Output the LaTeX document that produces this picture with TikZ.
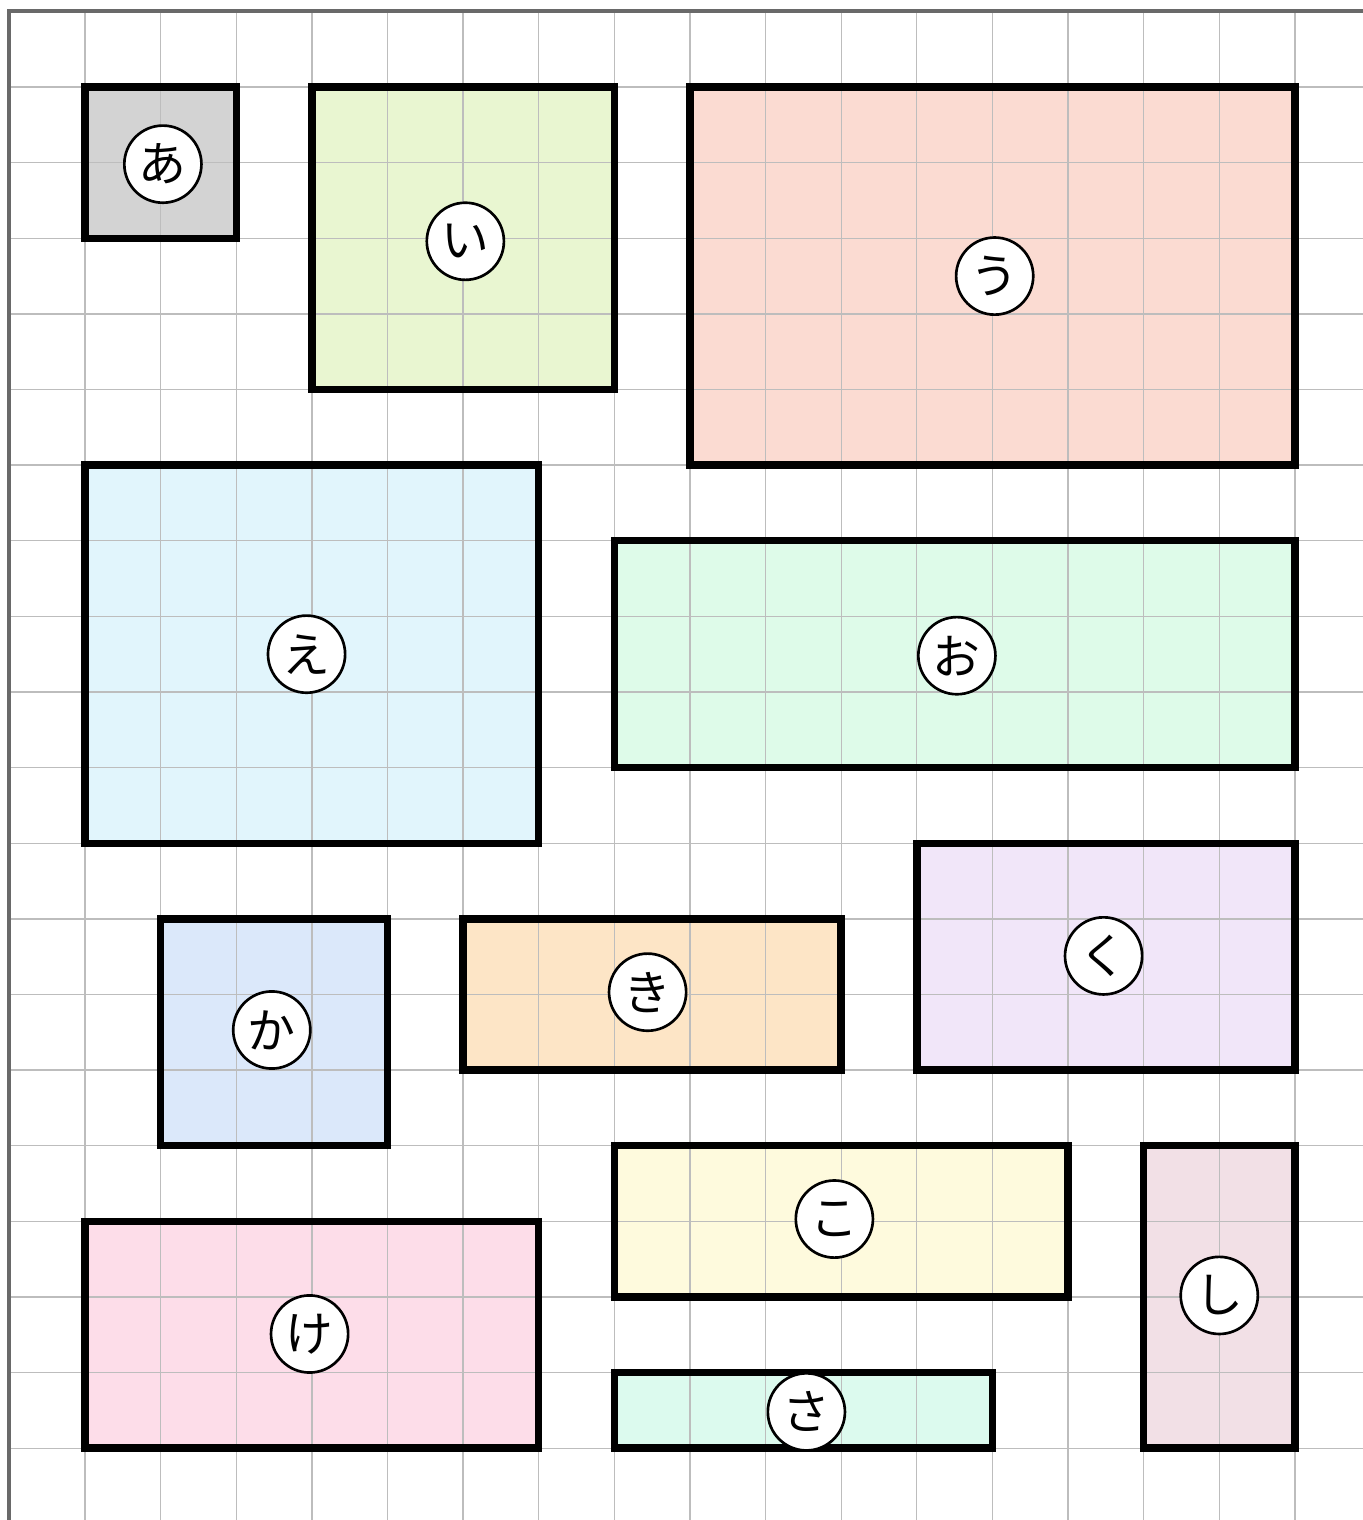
\documentclass[tikz,border=0pt]{standalone}
\usepackage{fontspec}
\newfontfamily\jpfont{Noto Sans CJK JP}
\usetikzlibrary{calc}
\definecolor{gridgray}{HTML}{BDBDBD}
\definecolor{framegray}{HTML}{696969}
\definecolor{fillA}{HTML}{D3D3D3}
\definecolor{fillI}{HTML}{E9F6D1}
\definecolor{fillU}{HTML}{FBDBD2}
\definecolor{fillE}{HTML}{E1F5FC}
\definecolor{fillO}{HTML}{DEFBE9}
\definecolor{fillKa}{HTML}{DBE8FA}
\definecolor{fillKi}{HTML}{FDE5C6}
\definecolor{fillKu}{HTML}{F1E6F9}
\definecolor{fillKe}{HTML}{FDDDE9}
\definecolor{fillKo}{HTML}{FEFADD}
\definecolor{fillSa}{HTML}{DCFAEE}
\definecolor{fillShi}{HTML}{F2E0E6}
\tikzset{
  plot/.style={line width=2.8pt,line join=miter},
  lbl/.style={circle,draw,line width=1pt,fill=white,minimum size=1.02cm,inner sep=0pt,
    font=\jpfont\fontsize{18}{18}\selectfont},
}

\begin{document}
\begin{tikzpicture}[x=1cm,y=-1cm]
  \useasboundingbox (-0.124,-0.151) rectangle (17.90,19.95);
  % fills
  \fill[fillA] (1,1) rectangle (3,3);
  \fill[fillI] (4,1) rectangle (8,5);
  \fill[fillU] (9,1) rectangle (17,6);
  \fill[fillE] (1,6) rectangle (7,11);
  \fill[fillO] (8,7) rectangle (17,10);
  \fill[fillKa] (2,12) rectangle (5,15);
  \fill[fillKi] (6,12) rectangle (11,14);
  \fill[fillKu] (12,11) rectangle (17,14);
  \fill[fillKe] (1,16) rectangle (7,19);
  \fill[fillKo] (8,15) rectangle (14,17);
  \fill[fillSa] (8,18) rectangle (13,19);
  \fill[fillShi] (15,15) rectangle (17,19);
  % grid and frame
  \draw[gridgray,line width=0.5pt] (0,0) grid (17.9,19.95);
  \draw[framegray,line width=1.5pt] (0,19.95) -- (0,0) -- (17.9,0);
  % outlines
  \draw[plot] (1,1) rectangle (3,3);
  \draw[plot] (4,1) rectangle (8,5);
  \draw[plot] (9,1) rectangle (17,6);
  \draw[plot] (1,6) rectangle (7,11);
  \draw[plot] (8,7) rectangle (17,10);
  \draw[plot] (2,12) rectangle (5,15);
  \draw[plot] (6,12) rectangle (11,14);
  \draw[plot] (12,11) rectangle (17,14);
  \draw[plot] (1,16) rectangle (7,19);
  \draw[plot] (8,15) rectangle (14,17);
  \draw[plot] (8,18) rectangle (13,19);
  \draw[plot] (15,15) rectangle (17,19);
  % labels
  \node[lbl] (a) at (2.03,2.02) {あ};
  \node[lbl] (i) at (6.03,3.04) {い};
  \node[lbl] (u) at (13.03,3.5) {う};
  \node[lbl] (e) at (3.93,8.5) {え};
  \node[lbl] (o) at (12.53,8.52) {お};
  \node[lbl] (ka) at (3.47,13.47) {か};
  \node[lbl] (ki) at (8.44,12.97) {き};
  \node[lbl] (ku) at (14.47,12.49) {く};
  \node[lbl] (ke) at (3.97,17.49) {け};
  \node[lbl] (ko) at (10.91,15.97) {こ};
  \node[lbl] (sa) at (10.54,18.52) {さ};
  \node[lbl] (shi) at (16,16.98) {し};
\end{tikzpicture}
\end{document}
